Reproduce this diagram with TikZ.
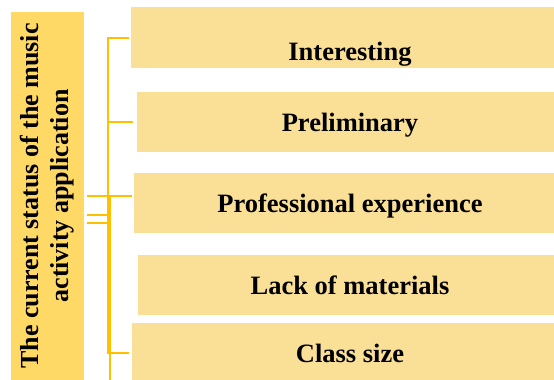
\documentclass[tikz,border=0pt]{standalone}
\usepackage{fontspec}
\setmainfont{Liberation Serif}
\usepackage{xcolor}
\usepackage{tikz}

\definecolor{gold}{HTML}{FFD966}
\definecolor{sand}{HTML}{FAE096}
\definecolor{amber}{HTML}{FFC000}

\tikzset{
  topic/.style={fill=gold, inner sep=0pt, rotate=90, align=center,
    minimum width=368pt, minimum height=73pt,
    font=\fontsize{26}{30}\selectfont\bfseries},
  item/.style={fill=sand, inner sep=0pt, minimum height=61pt,
    text height=18pt, text depth=0pt,
    font=\fontsize{26.5}{30}\selectfont\bfseries},
  link/.style={draw=amber, line width=2pt}
}

\begin{document}
\begin{tikzpicture}[x=1pt,y=-1pt]
            \useasboundingbox (0,0) rectangle (554,380);
            \fill[white] (0,0) rectangle (554,380);

            \node[topic] at (47.5,196) (status)
              {The current status of the music\\activity application};

            \node[item, minimum width=438pt, text height=45pt] at (350,37.5) (interest) {Interesting};
            \node[item, minimum width=426pt, minimum height=60pt] at (350,122) (prelim) {Preliminary};
            \node[item, minimum width=432pt, minimum height=60pt] at (350,203) (profexp) {Professional experience};
            \node[item, minimum width=424pt, minimum height=60pt] at (350,285) (lack) {Lack of materials};
            \node[item, minimum width=436pt, minimum height=60pt] at (350,353) (classsize) {Class size};

            \coordinate (bus) at (108,0);
            \coordinate (tap1) at (87,196);
            \coordinate (tap2) at (87,215);
            \coordinate (tap3) at (87,223);
            \coordinate (busend) at (109.5,380);

            \draw[link] ([xshift=-2pt]interest.west) -| (bus |- classsize.west)
              -- ([xshift=-3pt]classsize.west);
            \draw[link] (bus |- prelim.west) -- ([xshift=-4pt]prelim.west);

            \draw[link] (tap1) -- ([xshift=-2pt]profexp.west |- tap1);
            \draw[link] (tap2) -- (bus |- tap2);
            \draw[link] (tap3) -- (bus |- tap3);
            \draw[link] (busend |- tap1) -- (busend);
\end{tikzpicture}
\end{document}
